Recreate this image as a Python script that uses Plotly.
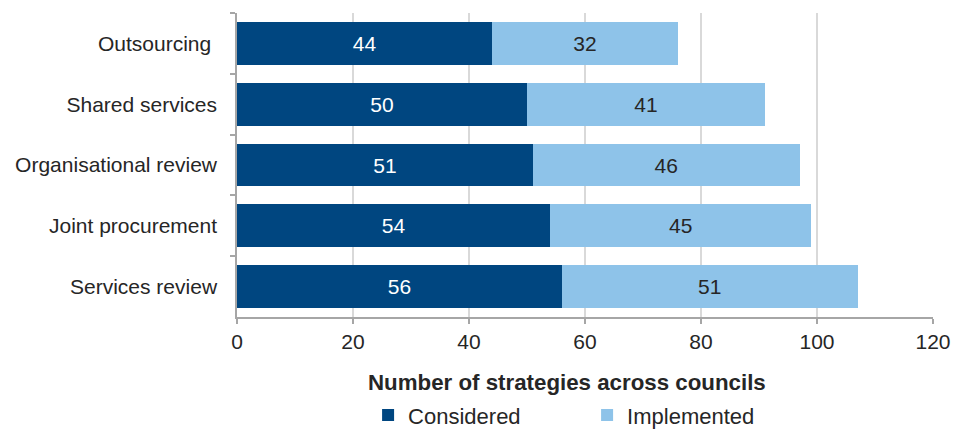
import plotly.graph_objects as go

# Strategies, listed top to bottom
strategies = ["Outsourcing\u00a0", "Shared services", "Organisational review",
              "Joint procurement", "Services review"]
considered = [44, 50, 51, 54, 56]
implemented = [32, 41, 46, 45, 51]
x_ticks = [0, 20, 40, 60, 80, 100, 120]

dark_blue = "#004680"
light_blue = "#8EC3E9"
axis_grey = "#A6A6A6"
text_dark = "#262626"
font_family = "Liberation Sans, Arial, sans-serif"

fig = go.Figure()
fig.add_trace(go.Bar(
    y=strategies, x=considered, orientation="h", name="Considered",
    marker=dict(color=dark_blue, line=dict(width=0)),
    text=considered, textposition="inside", insidetextanchor="middle",
    textfont=dict(color="white", size=21, family=font_family),
))
fig.add_trace(go.Bar(
    y=strategies, x=implemented, orientation="h", name="Implemented",
    marker=dict(color=light_blue, line=dict(width=0)),
    text=implemented, textposition="inside", insidetextanchor="middle",
    textfont=dict(color=text_dark, size=21, family=font_family),
))

fig.update_layout(
    barmode="stack",
    bargap=0.295,
    width=962, height=429,
    margin=dict(l=237, r=29, t=13, b=112, autoexpand=False),
    paper_bgcolor="white", plot_bgcolor="white",
    font=dict(family=font_family, size=21, color=text_dark),
    uniformtext=dict(mode="show", minsize=21),
    showlegend=True,
    legend=dict(
        orientation="h", x=0.503, xanchor="center",
        yref="container", y=0.032, yanchor="middle",
        entrywidth=174, entrywidthmode="pixels",
        font=dict(size=22, color=text_dark),
        traceorder="normal", itemclick=False, itemdoubleclick=False,
    ),
    annotations=[dict(
        text="<b>Number of strategies across councils</b>",
        x=0.474, xref="paper", xanchor="center",
        y=-0.217, yref="paper", yanchor="middle",
        showarrow=False, font=dict(size=22.3, color=text_dark),
    )],
)

fig.update_xaxes(
    range=[0, 120], tickvals=x_ticks, ticktext=[str(v) for v in x_ticks],
    showgrid=True, gridcolor="#D9D9D9", gridwidth=1.5,
    showline=True, linecolor=axis_grey, linewidth=1.5,
    ticks="outside", ticklen=5, tickcolor=axis_grey, tickwidth=1.5,
    tickfont=dict(size=21, color=text_dark), zeroline=False,
)
fig.update_yaxes(
    categoryorder="array", categoryarray=strategies, autorange="reversed",
    showline=True, linecolor=axis_grey, linewidth=1.5,
    ticks="outside", ticklen=5, tickcolor=axis_grey, tickwidth=1.5,
    tickson="boundaries", ticklabelstandoff=14,
    tickfont=dict(size=21, color=text_dark), showgrid=False,
)

fig.write_html("out.html")
